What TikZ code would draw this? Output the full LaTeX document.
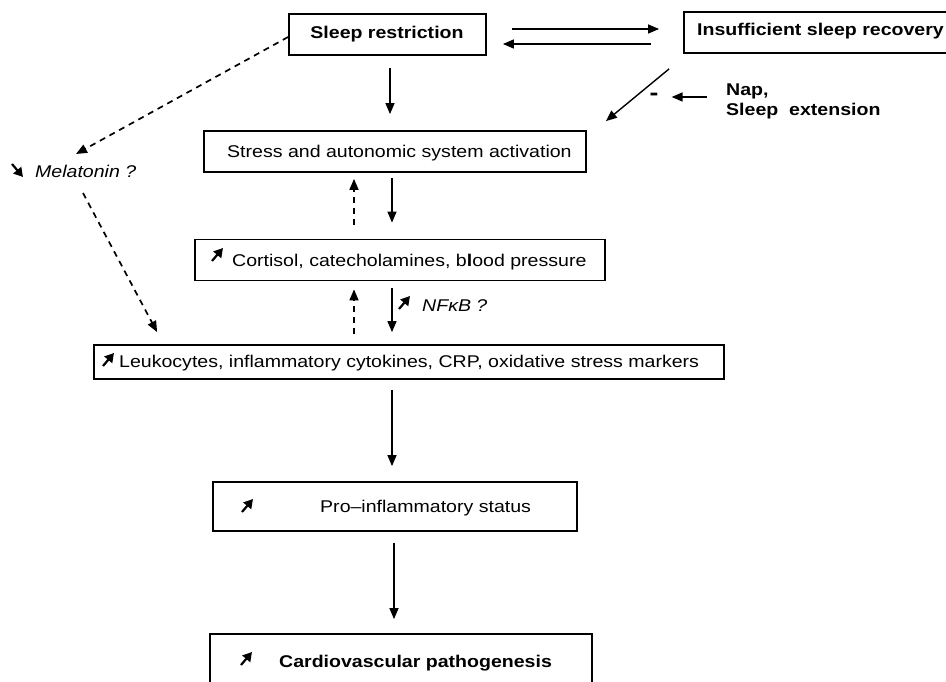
\documentclass[tikz,border=0pt]{standalone}
\usepackage{fontspec}
\setmainfont{Liberation Sans}[FakeStretch=1.15]
\usetikzlibrary{arrows.meta,calc}

\begin{document}
\begin{tikzpicture}[x=1pt,y=-1pt,
  box/.style={draw, line width=1.8pt, inner sep=0pt, rectangle},
  txt/.style={inner sep=0pt, anchor=base west, font=\fontsize{17}{20}\selectfont},
  arr/.style={line width=1.4pt, -{Triangle[length=11pt,width=9pt]}},
  dsh/.style={arr, line width=1.7pt, dash pattern=on 6pt off 5pt},
  incr/.pic={\draw[line width=2.2pt, -{Triangle[length=9pt,width=10pt]}] (-5,6) -- (6,-7);},
  decr/.pic={\draw[line width=2.2pt, -{Triangle[length=9pt,width=10pt]}] (-5,-6) -- (6,7);}
]
\useasboundingbox (0,0) rectangle (946,682);
\clip (0,0) rectangle (946,682);
\fill[white] (0,0) rectangle (946,682);

% boxes
\node[box, minimum width=197pt, minimum height=41pt] (sr) at (387.5,34.5) {};
\node[box, minimum width=276pt, minimum height=41pt] (isr) at (822,32.5) {};
\node[box, minimum width=382pt, minimum height=41pt] (stress) at (395,151.5) {};
\node[box, minimum width=410pt, minimum height=41pt] (cort) at (400,260) {};
\node[box, minimum width=630pt, minimum height=34pt] (leuk) at (409,362) {};
\node[box, minimum width=364pt, minimum height=49pt] (pro) at (395,506.5) {};
\node[box, minimum width=382pt, minimum height=80pt] (cardio) at (401,674) {};

% texts
\node[txt, anchor=base, font=\fontsize{17}{20}\selectfont\bfseries] (srT) at (387,39) {Sleep restriction};
\node[txt, font=\fontsize{17}{20}\selectfont\bfseries] (isrT) at (697,36) {Insufficient sleep recovery};
\node[txt] (stressT) at (227,158) {Stress and autonomic system activation};
\node[txt] (cortT) at (232,266) {Cortisol, catecholamines, b{\bfseries l}ood pressure};
\node[txt] (leukT) at (119,367) {Leukocytes, inflammatory cytokines, CRP, oxidative stress markers};
\node[txt] (proT) at (320,512) {Pro–inflammatory status};
\node[txt, font=\fontsize{17}{20}\selectfont\bfseries] (cardioT) at (279,667) {Cardiovascular pathogenesis};
\node[txt, font=\fontsize{17}{20}\selectfont\itshape] (mel) at (35,178) {Melatonin ?};
\node[txt, font=\fontsize{17}{20}\selectfont\itshape] (nfkb) at (422,311) {NFκB ?};
\node[txt, font=\fontsize{17}{20}\selectfont\bfseries] (nap1) at (726,96) {Nap,};
\node[txt, font=\fontsize{17}{20}\selectfont\bfseries] (nap2) at (726,116) {Sleep\ \ extension};
\node[inner sep=0pt, font=\fontsize{23}{24}\selectfont\bfseries] (minus) at (654,97) {-};

% increase / decrease markers
\pic at (217,255) {incr};
\pic at (108,360) {incr};
\pic at (404,303) {incr};
\pic at (247,506) {incr};
\pic at (246,659) {incr};
\pic at (17,170) {decr};

% connectors
\draw[arr, shorten <=25pt, shorten >=24pt] (sr.east |- 0,29) -- (isr.west |- 0,29);
\draw[arr, shorten <=32pt, shorten >=16pt] (isr.west |- 0,44) -- (sr.east |- 0,44);
\draw[arr, shorten <=12pt, shorten >=16pt] (sr.south -| 390,0) -- (stress.north -| 390,0);
\draw[arr] ($(isr.south west)+(-14,15)$) -- ($(stress.north east)+(19,-9)$);
\draw[arr, shorten <=19pt, shorten >=13pt] (nap1.west |- minus) -- (minus.east);
\draw[dsh] (sr.west |- 0,37) -- ($(mel.base west)+(41,-24)$);
\draw[dsh] ($(mel.base west)+(48,15)$) -- ($(leuk.north west)+(64,-12)$);
\draw[dsh, shorten <=14pt, shorten >=6pt] (cort.north -| 354,0) -- (stress.south -| 354,0);
\draw[arr, shorten <=5pt, shorten >=16pt] (stress.south -| 392,0) -- (cort.north -| 392,0);
\draw[dsh, shorten <=10pt, shorten >=8pt] (leuk.north -| 354,0) -- (cort.south -| 354,0);
\draw[arr, shorten <=7pt, shorten >=12pt] (cort.south -| 392,0) -- (leuk.north -| 392,0);
\draw[arr, shorten <=10pt, shorten >=15pt] (leuk.south -| 392,0) -- (pro.north -| 392,0);
\draw[arr, shorten <=11pt, shorten >=14pt] (pro.south -| 394,0) -- (cardio.north -| 394,0);
\end{tikzpicture}
\end{document}
